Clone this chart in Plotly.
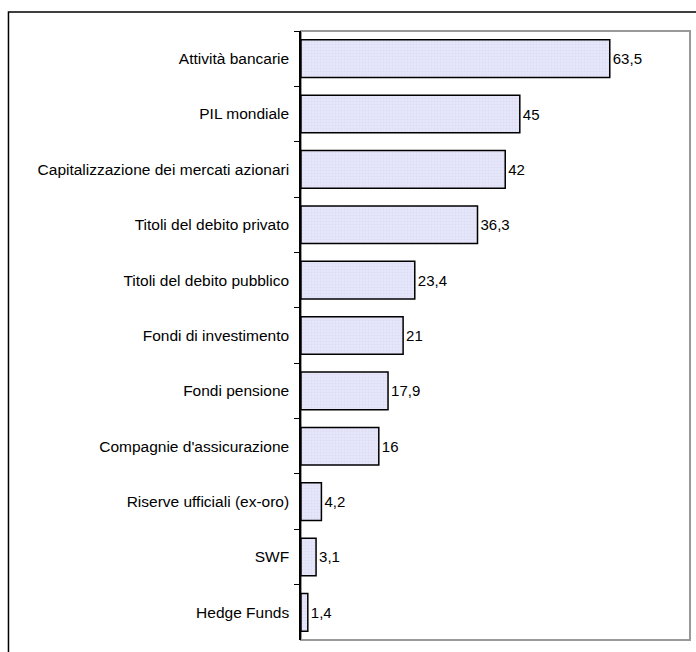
import plotly.graph_objects as go

categories = ["Attività bancarie", "PIL mondiale", "Capitalizzazione dei mercati azionari",
              "Titoli del debito privato", "Titoli del debito pubblico", "Fondi di investimento",
              "Fondi pensione", "Compagnie d'assicurazione", "Riserve ufficiali (ex-oro)",
              "SWF", "Hedge Funds"]
values = [63.5, 45, 42, 36.3, 23.4, 21, 17.9, 16, 4.2, 3.1, 1.4]
labels = [("%g" % v).replace(".", ",") for v in values]

FONT = "Liberation Sans, Arial"

fig = go.Figure(go.Bar(
    y=categories, x=values, orientation="h",
    text=labels, textposition="outside", cliponaxis=False,
    textfont=dict(family=FONT, size=15, color="black"),
    marker=dict(color="#E4E4FA", line=dict(color="black", width=1.5),
                pattern=dict(shape=".", fgcolor="#D0D0E8", bgcolor="#E6E6FB", size=3, solidity=0.3)),
    width=0.68,
))

fig.update_layout(
    width=696, height=652,
    margin=dict(l=301, r=6, t=31, b=12),
    paper_bgcolor="white", plot_bgcolor="white",
    showlegend=False,
    font=dict(family=FONT, size=15, color="black"),
    xaxis=dict(range=[0, 80], visible=False, showgrid=False, zeroline=False, fixedrange=True),
    yaxis=dict(autorange="reversed", showgrid=False, zeroline=False,
               ticks="outside", ticklen=5, tickcolor="black", tickwidth=1,
               tickson="boundaries", showline=True, linecolor="black", linewidth=1.5,
               ticklabelstandoff=7, tickfont=dict(family=FONT, size=15.5)),
    shapes=[
        dict(type="rect", xref="paper", yref="paper", x0=0, y0=0, x1=1, y1=1,
             line=dict(color="#999999", width=2), layer="below"),
        dict(type="rect", xref="paper", yref="paper", x0=-0.752, y0=-0.1, x1=1.1, y1=1.031,
             line=dict(color="black", width=1.5)),
    ],
)

fig.write_html("out.html")
